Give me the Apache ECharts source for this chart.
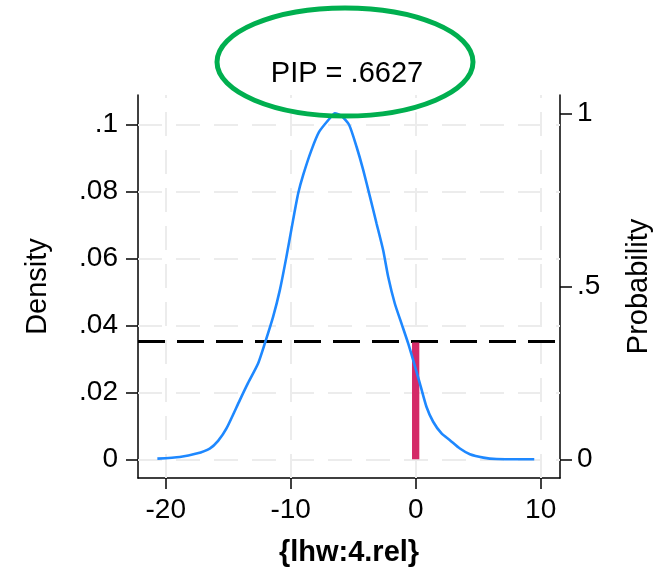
<!DOCTYPE html>
<html>
<head>
<meta charset="utf-8">
<script src="https://cdn.jsdelivr.net/npm/echarts@6/dist/echarts.min.js"></script>
<style>html,body{margin:0;padding:0;background:#fff}#c{width:672px;height:573px}</style>
</head>
<body>
<div id="c"></div>
<script>
// ---- data ----
const xTicks = [-20, -10, 0, 10];
const xTickLabels = ['-20', '-10', '0', '10'];
const densityTicks = [0, 0.02, 0.04, 0.06, 0.08, 0.1];
const densityTickLabels = ['0', '.02', '.04', '.06', '.08', '.1'];
const probTicks = [0, 0.5, 1];
const probTickLabels = ['0', '.5', '1'];
const curveX = [-20.67, -18.88, -17.54, -16.48, -15.81, -15.14, -14.08, -13.41, -12.61, -12.07, -11.41, -10.87, -10.34, -9.81, -9.40, -9.00, -8.34, -7.72, -6.87, -6.47, -5.94, -5.32, -4.73, -4.20, -3.66, -3.13, -2.60, -2.20, -1.67, -1.13, -0.60, -0.20, 0.34, 0.87, 1.40, 2.07, 2.74, 3.54, 4.34, 5.41, 6.47, 9.49];
const curveDensity = [0.0002, 0.0007, 0.0017, 0.0032, 0.0055, 0.0092, 0.0176, 0.0228, 0.0286, 0.0346, 0.0425, 0.0505, 0.0605, 0.0714, 0.0794, 0.0849, 0.0923, 0.0978, 0.1018, 0.1033, 0.1025, 0.0998, 0.0933, 0.0864, 0.0784, 0.0704, 0.0624, 0.0545, 0.0465, 0.0405, 0.0346, 0.0296, 0.0226, 0.0156, 0.0112, 0.0077, 0.0057, 0.0032, 0.0015, 0.0005, 0.0001, 0.0];
const pip = 0.6627;
const pipText = 'PIP = .6627';
const xName = '{lhw:4.rel}';
const leftName = 'Density';
const rightName = 'Probability';

// ---- chart ----
const FONT = 'Liberation Sans';
function lookup(ticks, labels) {
  return function (v) {
    let best = 0;
    for (let i = 1; i < ticks.length; i++) {
      if (Math.abs(ticks[i] - v) < Math.abs(ticks[best] - v)) best = i;
    }
    return labels[best];
  };
}
const chart = echarts.init(document.getElementById('c'), null, { renderer: 'canvas' });
const axisLine = { show: true, onZero: false, lineStyle: { color: '#000', width: 1.5 } };
const gridStyle = { color: '#ececec', width: 2, type: [24, 14] };
const curveData = curveX.map((x, i) => [x, curveDensity[i]]);
const probZero = 1 - pip;

const option = {
  animation: false,
  backgroundColor: '#fff',
  grid: { left: 138, right: 112, top: 95, bottom: 95 },
  xAxis: {
    type: 'value', min: -22.22, max: 11.55,
    name: xName, nameLocation: 'middle', nameGap: 60,
    nameTextStyle: { fontFamily: FONT, fontSize: 29, fontWeight: 'bold', color: '#000' },
    axisLine: axisLine,
    axisTick: { show: true, length: 11, customValues: xTicks, lineStyle: { color: '#000', width: 1.5 } },
    axisLabel: { customValues: xTicks, formatter: lookup(xTicks, xTickLabels), margin: 18, fontFamily: FONT, fontSize: 28, color: '#000' },
    splitLine: { show: false }
  },
  yAxis: [
    {
      type: 'value', min: -0.00559, max: 0.10875, position: 'left',
      name: leftName, nameLocation: 'middle', nameGap: 86,
      nameTextStyle: { fontFamily: FONT, fontSize: 29, color: '#000' },
      axisLine: axisLine,
      axisTick: { show: true, length: 12, customValues: densityTicks, lineStyle: { color: '#000', width: 1.5 } },
      axisLabel: { customValues: densityTicks, formatter: lookup(densityTicks, densityTickLabels), margin: 20, fontFamily: FONT, fontSize: 28, color: '#000' },
      splitLine: { show: false }
    },
    {
      type: 'value', min: -0.0541, max: 1.0529, position: 'right',
      name: rightName, nameLocation: 'middle', nameGap: 64,
      nameTextStyle: { fontFamily: FONT, fontSize: 29, color: '#000' },
      axisLine: axisLine,
      axisTick: { show: true, length: 12, customValues: probTicks, lineStyle: { color: '#000', width: 1.5 } },
      axisLabel: { customValues: probTicks, formatter: lookup(probTicks, probTickLabels), margin: 17, fontFamily: FONT, fontSize: 28, color: '#000' },
      splitLine: { show: false }
    }
  ],
  series: [
    {
      name: 'grid', type: 'line', z: 1, silent: true,
      data: [[xTicks[0], densityTicks[0]]], symbol: 'none',
      lineStyle: { opacity: 0 },
      markLine: {
        z: 1, silent: true, symbol: 'none', animation: false,
        label: { show: false },
        lineStyle: gridStyle,
        data: xTicks.map(v => ({ xAxis: v })).concat(densityTicks.map(v => ({ yAxis: v })))
      }
    },
    {
      name: 'prob', type: 'line', yAxisIndex: 1, z: 6,
      data: [[0, 0], [0, probZero]], symbol: 'none',
      lineStyle: { color: '#d42a68', width: 7.3, cap: 'butt' },
      markLine: {
        z: 4, silent: true, symbol: 'none', animation: false,
        label: { show: false },
        lineStyle: { color: '#000', width: 3, type: [27, 12] },
        data: [{ yAxis: probZero }]
      }
    },
    {
      name: 'density', type: 'line', z: 7,
      data: curveData, symbol: 'none', smooth: 0.2,
      lineStyle: { color: '#1e88ff', width: 2.6 }
    }
  ],
  graphic: [
    {
      type: 'ellipse', z: 100,
      shape: { cx: 345, cy: 62, rx: 128, ry: 54 },
      style: { fill: 'none', stroke: '#00af4f', lineWidth: 5 }
    },
    {
      type: 'text', z: 101, x: 347, y: 74,
      style: { text: pipText, fontFamily: FONT, fontSize: 29, fill: '#000', align: 'center', verticalAlign: 'middle' }
    }
  ]
};
chart.setOption(option);
</script>
</body>
</html>
